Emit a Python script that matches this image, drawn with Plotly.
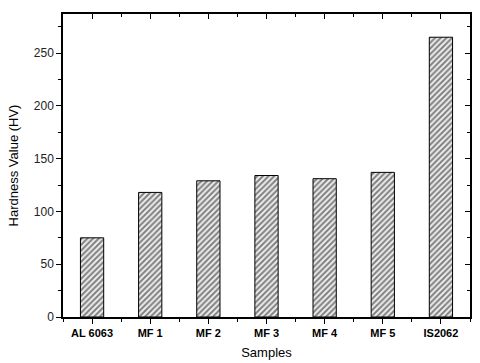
import plotly.graph_objects as go

categories = ["AL 6063", "MF 1", "MF 2", "MF 3", "MF 4", "MF 5", "IS2062"]
hardness = [75, 118, 129, 134, 131, 137, 265]
y_ticks = [0, 50, 100, 150, 200, 250]

xpos = list(range(len(categories)))

fig = go.Figure()
fig.add_trace(go.Bar(
    x=xpos, y=hardness, width=0.4,
    marker=dict(color="white", line=dict(color="black", width=1),
                pattern=dict(shape="/", fgcolor="#111111", bgcolor="#eeeeee", size=4, solidity=0.5)),
    showlegend=False, hoverinfo="skip"))
fig.add_trace(go.Scatter(x=xpos, y=hardness, xaxis="x2", yaxis="y2", mode="markers",
                         marker=dict(opacity=0), showlegend=False, hoverinfo="skip"))

font = dict(family="Liberation Sans, Arial", color="black")
minor_x = [i + 0.5 for i in range(-1, 7)]
fig.update_layout(
    width=480, height=363,
    margin=dict(l=63, r=10, t=14, b=46),
    paper_bgcolor="white", plot_bgcolor="white",
    font=font,
    xaxis=dict(range=[-0.5, 6.5], tickvals=xpos, ticktext=["<b>%s</b>" % c for c in categories],
               ticks="outside", ticklen=5, tickwidth=1, tickcolor="black", automargin=False,
               showline=True, linecolor="black", linewidth=1.5, showgrid=False, zeroline=False,
               tickfont=dict(size=11, family="Liberation Sans, Arial", color="black"),
               minor=dict(tickvals=minor_x, ticks="outside", ticklen=3,
                          tickcolor="black", showgrid=False),
               title=dict(text="Samples", font=dict(size=13), standoff=10)),
    yaxis=dict(range=[0, 287], tickvals=y_ticks, automargin=False,
               ticks="outside", ticklen=5, tickwidth=1, tickcolor="black",
               showline=True, linecolor="black", linewidth=1.5, showgrid=False, zeroline=False,
               tickfont=dict(size=12, color="#222222"),
               minor=dict(dtick=25, ticks="outside", ticklen=3, tickcolor="black", showgrid=False),
               title=dict(text="Hardness Value (HV)", font=dict(size=13), standoff=12)),
    xaxis2=dict(range=[-0.5, 6.5], overlaying="x", side="top", tickvals=xpos, automargin=False,
                ticks="inside", ticklen=5, tickcolor="black", showticklabels=False,
                showline=True, linecolor="black", linewidth=1.5, showgrid=False, zeroline=False,
                minor=dict(tickvals=minor_x, ticks="inside", ticklen=3,
                           tickcolor="black", showgrid=False)),
    yaxis2=dict(range=[0, 287], overlaying="y", side="right", tickvals=y_ticks, automargin=False,
                ticks="inside", ticklen=5, tickcolor="black", showticklabels=False,
                showline=True, linecolor="black", linewidth=1.5, showgrid=False, zeroline=False,
                minor=dict(dtick=25, ticks="inside", ticklen=3, tickcolor="black", showgrid=False)),
)

fig.write_html("out.html", config={"displayModeBar": False},
               post_script="document.body.style.margin='0';document.documentElement.style.overflow='hidden';")
